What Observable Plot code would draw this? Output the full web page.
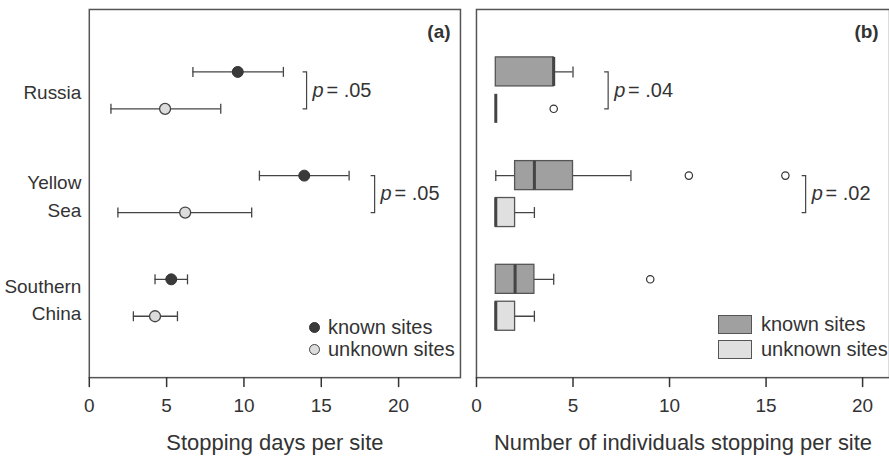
<!DOCTYPE html>
<html>
<head>
<meta charset="utf-8">
<script src="https://cdn.jsdelivr.net/npm/d3@7"></script>
<script src="https://cdn.jsdelivr.net/npm/@observablehq/plot@0.6"></script>
<style>
  body { margin: 0; background: #fff; font-family: "Liberation Sans", Arial, sans-serif; color: #333; }
  #wrap { position: relative; width: 889px; height: 456px; overflow: hidden; display: flex; }
  .legend { position: absolute; font-size: 20px; color: #333; }
  .legend .row { display: flex; align-items: center; white-space: nowrap; }
  .dotA { display: inline-block; width: 11px; height: 11px; border-radius: 50%; box-sizing: border-box; margin-right: 8px; }
  .sw { display: inline-block; width: 34px; height: 19px; box-sizing: border-box; border: 1.3px solid #555; margin-right: 9px; }
</style>
</head>
<body>
<div id="wrap">
  <div id="panelA"></div>
  <div id="panelB"></div>
  <div class="legend" id="legA" style="left:309px; top:316px;">
    <div class="row" style="height:22px"><span class="dotA" style="background:#3a3a3a;border:1.3px solid #333"></span><span id="la1"></span></div>
    <div class="row" style="height:22px"><span class="dotA" style="background:#dcdcdc;border:1.3px solid #444"></span><span id="la2"></span></div>
  </div>
  <div class="legend" id="legB" style="left:718px; top:312px;">
    <div class="row" style="height:25px"><span class="sw" style="background:#a0a0a0"></span><span id="lb1"></span></div>
    <div class="row" style="height:25px"><span class="sw" style="background:#e0e0e0"></span><span id="lb2"></span></div>
  </div>
</div>
<script>
// ---------- data ----------
const regions = ["Russia", "Yellow Sea", "Southern China"];
const regionLabels = ["Russia", "Yellow\nSea", "Southern\nChina"];
const seriesNames = ["known sites", "unknown sites"];
const xTicks = [0, 5, 10, 15, 20];

// (a) Stopping days per site: mean with interval
const daysKnownMean = [9.6, 13.9, 5.3];
const daysKnownLow = [6.7, 11.0, 4.25];
const daysKnownHigh = [12.55, 16.8, 6.35];
const daysUnknownMean = [4.9, 6.2, 4.25];
const daysUnknownLow = [1.4, 1.85, 2.85];
const daysUnknownHigh = [8.5, 10.5, 5.7];
const pDays = [".05", ".05", null];
const pDaysAt = [14.05, 18.45, null];

// (b) Number of individuals stopping per site: box plots
const indKnownMin = [1, 1, 1];
const indKnownQ1 = [1, 2, 1];
const indKnownMedian = [4, 3, 2];
const indKnownQ3 = [4, 5, 3];
const indKnownMax = [5, 8, 4];
const indKnownOutliers = [[], [11, 16], [9]];
const indUnknownMin = [1, 1, 1];
const indUnknownQ1 = [1, 1, 1];
const indUnknownMedian = [1, 1, 1];
const indUnknownQ3 = [1, 2, 2];
const indUnknownMax = [1, 3, 3];
const indUnknownOutliers = [[4], [], []];
const pInd = [".04", ".02", null];
const pIndAt = [6.82, 17.05, null];

// ---------- tables ----------
const OFF = 0.178, BOX = 0.14;
const daysRows = regions.flatMap((r, i) => [
  {region: r, i, s: "known", y: i - OFF, mean: daysKnownMean[i], lo: daysKnownLow[i], hi: daysKnownHigh[i]},
  {region: r, i, s: "unknown", y: i + OFF, mean: daysUnknownMean[i], lo: daysUnknownLow[i], hi: daysUnknownHigh[i]}
]);
const daysCaps = daysRows.flatMap(d => [{x: d.lo, y: d.y}, {x: d.hi, y: d.y}]);
const pDaysRows = regions.map((r, i) => ({i, p: pDays[i], x: pDaysAt[i]})).filter(d => d.p);

const indRows = regions.flatMap((r, i) => [
  {region: r, i, s: "known", y: i - OFF, min: indKnownMin[i], q1: indKnownQ1[i], med: indKnownMedian[i], q3: indKnownQ3[i], max: indKnownMax[i], out: indKnownOutliers[i]},
  {region: r, i, s: "unknown", y: i + OFF, min: indUnknownMin[i], q1: indUnknownQ1[i], med: indUnknownMedian[i], q3: indUnknownQ3[i], max: indUnknownMax[i], out: indUnknownOutliers[i]}
]);
const indOut = indRows.flatMap(d => d.out.map(v => ({x: v, y: d.y})));
const indCaps = indRows.flatMap(d => [
  ...(d.min < d.q1 ? [{x: d.min, y: d.y}] : []),
  ...(d.max > d.q3 ? [{x: d.max, y: d.y}] : [])
]);
const pIndRows = regions.map((r, i) => ({i, p: pInd[i], x: pIndAt[i]})).filter(d => d.p);

// ---------- symbols ----------
const vbar = {draw(ctx, size) { const h = Math.sqrt(size / Math.PI); ctx.moveTo(0, -h); ctx.lineTo(0, h); }};
const bracket = {draw(ctx, size) { const h = Math.sqrt(size / Math.PI); ctx.moveTo(-4, -h); ctx.lineTo(0, -h); ctx.lineTo(0, h); ctx.lineTo(-4, h); }};

const FONT = "'Liberation Sans', Arial, sans-serif";
const common = {
  height: 456, marginTop: 9, marginBottom: 78,
  y: {domain: [-0.78, 2.77], reverse: true, label: null},
  style: {fontFamily: FONT, fontSize: "18px", color: "#333", background: "#fff", overflow: "visible"}
};

function pMarks(rows) {
  return [
    Plot.dot(rows, {x: "x", y: "i", symbol: bracket, r: 18.5, stroke: "#444", strokeWidth: 1.2, fill: "none"}),
    Plot.text(rows, {x: "x", y: "i", text: () => "p", dx: 6, textAnchor: "start", fontStyle: "italic", fontSize: 20, fill: "#333"}),
    Plot.text(rows, {x: "x", y: "i", text: d => "= " + d.p, dx: 20, textAnchor: "start", fontSize: 20, fill: "#333"})
  ];
}

function xAxes(title) {
  return [
    Plot.axisX({ticks: xTicks, tickSize: 10, tickPadding: 11, strokeWidth: 1.5, fontSize: 19, label: null}),
    Plot.axisX({ticks: [], tickSize: 0, fontSize: 22, label: title, labelAnchor: "center", labelOffset: 73, labelArrow: "none"})
  ];
}

const plotA = Plot.plot({
  ...common,
  width: 466, marginLeft: 89, marginRight: 5,
  x: {domain: [0, 24], label: null},
  marks: [
    Plot.frame({stroke: "#555", strokeWidth: 1.5}),
    ...xAxes("Stopping days per site"),
    Plot.axisY({ticks: [0, 1, 2], tickFormat: i => regionLabels[i], tickSize: 0, tickPadding: 8, lineHeight: 1.45, fontSize: 19, label: null}),
    Plot.ruleY(daysRows, {y: "y", x1: "lo", x2: "hi", stroke: "#444", strokeWidth: 1.3}),
    Plot.dot(daysCaps, {x: "x", y: "y", symbol: vbar, r: 5, stroke: "#444", strokeWidth: 1.3, fill: "none"}),
    Plot.dot(daysRows.filter(d => d.s === "known"), {x: "mean", y: "y", r: 5.5, fill: "#3a3a3a", stroke: "#333", strokeWidth: 1}),
    Plot.dot(daysRows.filter(d => d.s === "unknown"), {x: "mean", y: "y", r: 5.5, fill: "#dcdcdc", stroke: "#444", strokeWidth: 1.3}),
    ...pMarks(pDaysRows),
    Plot.text(["(a)"], {text: d => d, frameAnchor: "top-right", dx: -10, dy: 22, lineAnchor: "middle", fontWeight: "bold", fontSize: 19, fill: "#333"})
  ]
});

const plotB = Plot.plot({
  ...common,
  y: {...common.y, axis: null},
  width: 425, marginLeft: 11, marginRight: 0,
  x: {domain: [0, 414 / 19.35], label: null},
  marks: [
    Plot.frame({stroke: "#555", strokeWidth: 1.5}),
    ...xAxes("Number of individuals stopping per site"),
    Plot.ruleY(indRows, {y: "y", x1: "min", x2: "max", stroke: "#444", strokeWidth: 1.3}),
    Plot.dot(indCaps, {x: "x", y: "y", symbol: vbar, r: 5.5, stroke: "#444", strokeWidth: 1.3, fill: "none"}),
    Plot.rect(indRows.filter(d => d.s === "known"), {x1: "q1", x2: "q3", y1: d => d.y - BOX, y2: d => d.y + BOX, fill: "#a0a0a0", stroke: "#555", strokeWidth: 1.3}),
    Plot.rect(indRows.filter(d => d.s === "unknown"), {x1: "q1", x2: "q3", y1: d => d.y - BOX, y2: d => d.y + BOX, fill: "#e0e0e0", stroke: "#555", strokeWidth: 1.3}),
    Plot.ruleX(indRows, {x: "med", y1: d => d.y - BOX, y2: d => d.y + BOX, stroke: "#444", strokeWidth: 3}),
    Plot.dot(indOut, {x: "x", y: "y", r: 3.7, fill: "#fff", stroke: "#333", strokeWidth: 1.2}),
    ...pMarks(pIndRows),
    Plot.text(["(b)"], {text: d => d, frameAnchor: "top-right", dx: -11, dy: 22, lineAnchor: "middle", fontWeight: "bold", fontSize: 19, fill: "#333"})
  ]
});

document.getElementById("panelA").appendChild(plotA);
document.getElementById("panelB").appendChild(plotB);
document.getElementById("la1").textContent = seriesNames[0];
document.getElementById("la2").textContent = seriesNames[1];
document.getElementById("lb1").textContent = seriesNames[0];
document.getElementById("lb2").textContent = seriesNames[1];
</script>
</body>
</html>
